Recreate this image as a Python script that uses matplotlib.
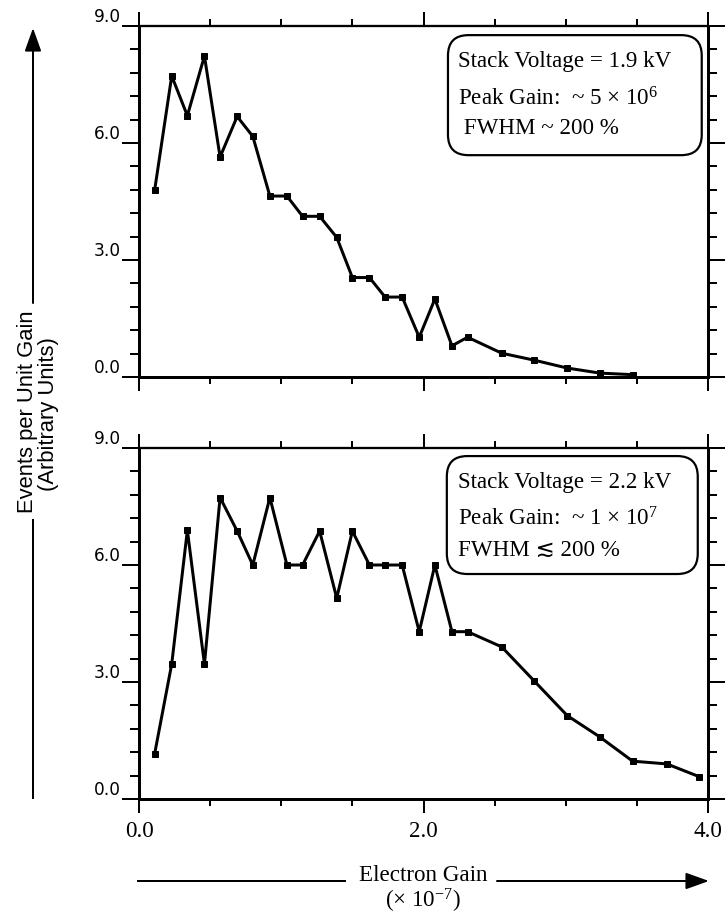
"""
Electron gain spectra at two stack voltages
"""

import numpy as np
import matplotlib
matplotlib.use('Agg')
import matplotlib.pyplot as plt
from matplotlib.patches import FancyBboxPatch, FancyArrowPatch
from matplotlib.lines import Line2D

plt.rcParams['mathtext.fontset'] = 'custom'
plt.rcParams['mathtext.rm'] = 'Liberation Serif'
plt.rcParams['mathtext.default'] = 'regular'

# electron gain (x 1e7) of each bin
gain = [0.11, 0.23, 0.34, 0.46, 0.57, 0.69, 0.80, 0.92, 1.04, 1.15,
        1.27, 1.39, 1.50, 1.62, 1.73, 1.85, 1.97, 2.08, 2.20, 2.31,
        2.55, 2.78, 3.01, 3.24, 3.47, 3.71, 3.94]

# events per unit gain, 1.9 kV (25 bins)
events_19kv = [4.79, 7.72, 6.70, 8.23, 5.64, 6.68, 6.17, 4.64, 4.64, 4.12,
               4.12, 3.58, 2.55, 2.55, 2.05, 2.05, 1.02, 2.00, 0.80, 1.02,
               0.61, 0.43, 0.23, 0.10, 0.06]

# events per unit gain, 2.2 kV (27 bins)
events_22kv = [1.16, 3.46, 6.89, 3.46, 7.73, 6.87, 6.00, 7.73, 6.00, 6.00,
               6.87, 5.15, 6.87, 6.00, 6.00, 6.00, 4.29, 6.00, 4.29, 4.29,
               3.90, 3.02, 2.14, 1.59, 0.97, 0.90, 0.57]

y_ticks = [0, 3, 6, 9]
y_labels = ['0.0', '3.0', '6.0', '9.0']
x_ticks = [0, 2, 4]
x_labels = ['0.0', '2.0', '4.0']

notes_19kv = ['Stack Voltage = 1.9 kV',
              'Peak Gain:  ~ 5 \u00d7 10$^{6}$',
              ' FWHM ~ 200 %']
notes_22kv = ['Stack Voltage = 2.2 kV',
              'Peak Gain:  ~ 1 \u00d7 10$^{7}$',
              'FWHM \u2272 200 %']

SERIF = ['Liberation Serif', 'DejaVu Serif', 'DejaVu Sans']
W, H = 727, 917


def fx(px):
    return px / W


def fy(py):
    return 1 - py / H


def style_axes(ax, show_xlabels):
    ax.set_xlim(0, 4)
    ax.set_ylim(0, 9)
    ax.set_xticks(x_ticks)
    ax.set_xticks(np.arange(0, 4.01, 0.5), minor=True)
    ax.set_yticks(y_ticks)
    ax.set_yticks(np.arange(0, 9.01, 0.6), minor=True)
    ax.set_yticklabels(y_labels, fontfamily='DejaVu Sans', fontsize=17)
    for lab in ax.get_yticklabels():
        lab.set_va('bottom')
    if show_xlabels:
        ax.set_xticklabels(x_labels, fontfamily=SERIF, fontsize=23)
    else:
        ax.set_xticklabels([])

    ax.tick_params(axis='y', which='major', direction='out', length=17,
                   width=2, left=True, right=True, pad=1)
    ax.tick_params(axis='y', which='minor', direction='out', length=9,
                   width=2, left=True, right=True)
    ax.tick_params(axis='x', which='major', direction='out', length=14,
                   width=2, top=True, bottom=True, pad=8)
    ax.tick_params(axis='x', which='minor', direction='out', length=7,
                   width=2, top=True, bottom=True)

    for side in ['left', 'bottom', 'right']:
        ax.spines[side].set_linewidth(3)
    ax.spines['top'].set_linewidth(2.3)


def note_box(ax, x0, y0, x1, y1):
    # rounded frame, corrected for the axes aspect
    box = FancyBboxPatch((x0, y0), x1 - x0, y1 - y0,
                         boxstyle='round,pad=0,rounding_size=0.036',
                         mutation_aspect=569 / 351,
                         transform=ax.transAxes, fc='white', ec='black',
                         lw=2.2, zorder=4)
    ax.add_patch(box)


def note_text(lines, x, baselines):
    for line, y in zip(lines, baselines):
        fig.text(fx(x), fy(y), line, fontfamily=SERIF, fontsize=23,
                 va='baseline', ha='left')


fig = plt.figure(figsize=(W / 72, H / 72), dpi=72)

ax_top = fig.add_axes([fx(139), fy(377), 569 / W, 351 / H])
ax_bot = fig.add_axes([fx(139), fy(799), 569 / W, 351 / H])

ax_top.plot(gain[:len(events_19kv)], events_19kv, '-s', color='black',
            lw=3, ms=6, clip_on=False, zorder=3)
ax_bot.plot(gain, events_22kv, '-s', color='black',
            lw=3, ms=6, clip_on=False, zorder=3)

style_axes(ax_top, False)
style_axes(ax_bot, True)

note_box(ax_top, 0.543, 0.632, 0.989, 0.974)
note_box(ax_bot, 0.541, 0.641, 0.982, 0.977)
note_text(notes_19kv, 458, [67, 106, 134])
note_text(notes_22kv, 458, [488, 525, 556])

# y axis caption with upward arrow
fig.text(fx(28), fy(412), 'Events per Unit Gain', rotation=90,
         fontfamily=['Liberation Sans Narrow', 'Liberation Sans'],
         fontsize=22, ha='center', va='center')
fig.text(fx(49), fy(414), '(Arbitrary Units)', rotation=90,
         fontfamily=['Liberation Sans Narrow', 'Liberation Sans'],
         fontsize=22, ha='center', va='center')
fig.add_artist(Line2D([fx(33), fx(33)], [fy(798), fy(520)],
                      transform=fig.transFigure, color='black', lw=2))
fig.add_artist(FancyArrowPatch((fx(33), fy(305)), (fx(33), fy(26)),
                               transform=fig.transFigure,
                               arrowstyle='-|>,head_length=1.4,head_width=0.5',
                               mutation_scale=14, color='black', lw=2))

# x axis caption with arrow to the right
fig.text(fx(423), fy(881), 'Electron Gain', fontfamily=SERIF, fontsize=23,
         ha='center', va='baseline')
fig.text(fx(423), fy(908), '(\u00d7 10$^{-7}$)', fontfamily=SERIF,
         fontsize=23, ha='center', va='baseline')
fig.add_artist(Line2D([fx(138), fx(345)], [fy(881), fy(881)],
                      transform=fig.transFigure, color='black', lw=2))
fig.add_artist(FancyArrowPatch((fx(495), fy(881)), (fx(711), fy(881)),
                               transform=fig.transFigure,
                               arrowstyle='-|>,head_length=1.4,head_width=0.5',
                               mutation_scale=14, color='black', lw=2))

fig.savefig('out.png', dpi=72)
